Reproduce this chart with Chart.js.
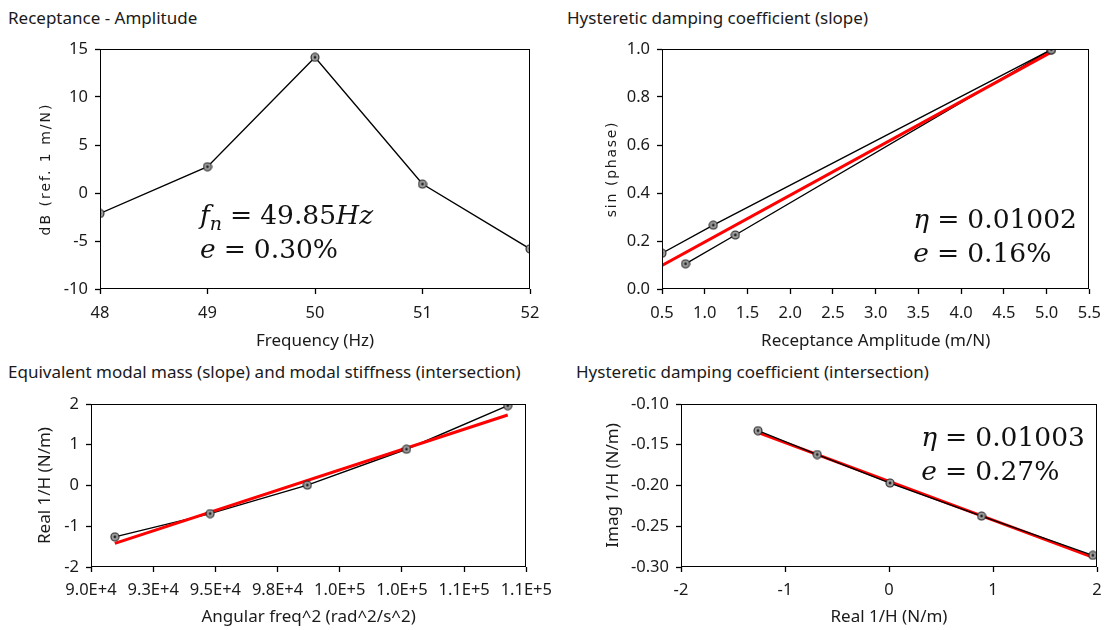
<!DOCTYPE html>
<html><head><meta charset="utf-8">
<script src="https://cdn.jsdelivr.net/npm/chart.js@4/dist/chart.umd.min.js"></script>
<style>
html,body{margin:0;padding:0;background:#fff;}
body{width:1110px;height:630px;position:relative;overflow:hidden;font-family:'Noto Sans',sans-serif;color:#1a1a1a;}
.title{position:absolute;font-size:17px;line-height:20px;white-space:nowrap;}
canvas{position:absolute;}
</style></head><body>
<div class="title" style="left:8px;top:8px">Receptance - Amplitude</div>
<div class="title" style="left:567px;top:8px">Hysteretic damping coefficient (slope)</div>
<div class="title" style="left:8px;top:362px">Equivalent modal mass (slope) and modal stiffness (intersection)</div>
<div class="title" style="left:576px;top:362px">Hysteretic damping coefficient (intersection)</div>
<canvas id="c1" width="560" height="330" style="left:0;top:30px"></canvas>
<canvas id="c2" width="550" height="330" style="left:560px;top:30px"></canvas>
<canvas id="c3" width="560" height="270" style="left:0;top:360px"></canvas>
<canvas id="c4" width="550" height="270" style="left:560px;top:360px"></canvas>
<script>
// ---------- data ----------
// Panel 1: Receptance amplitude
const freqHz = [48, 49, 50, 51, 52];
const ampDb = [-2.13, 2.74, 14.13, 0.93, -5.82];
const freqTicks = [48, 49, 50, 51, 52];
const ampTicks = [-10, -5, 0, 5, 10, 15];

// Panel 2: sin(phase) vs receptance amplitude
const upperAmp = [0.5, 1.1, 5.055];
const upperSin = [0.149, 0.266, 0.997];
const lowerAmp = [0.775, 1.358, 5.055];
const lowerSin = [0.105, 0.225, 0.997];
const slopeFitAmp = [0.5, 5.07];
const slopeFitSin = [0.098, 0.99];
const ampAxisTicks = [0.5, 1.0, 1.5, 2.0, 2.5, 3.0, 3.5, 4.0, 4.5, 5.0, 5.5];
const sinTicks = [0.0, 0.2, 0.4, 0.6, 0.8, 1.0];

// Panel 3: Real 1/H vs angular frequency squared
const omegaSq = [90958, 94790, 98696, 102683, 106752];
const realInvH = [-1.26, -0.69, 0.01, 0.89, 1.96];
const massFitW = [90958, 106752];
const massFitReal = [-1.42, 1.73];
const omegaTicks = [90000, 92500, 95000, 97500, 100000, 102500, 105000, 107500];
const omegaTickLabels = ['9.0E+4', '9.3E+4', '9.5E+4', '9.8E+4', '1.0E+5', '1.0E+5', '1.1E+5', '1.1E+5'];
const realTicks = [-2, -1, 0, 1, 2];

// Panel 4: Imag 1/H vs Real 1/H
const imagInvH = [-0.1327, -0.162, -0.197, -0.2375, -0.2857];
const dampFitReal = [-1.27, 1.95];
const dampFitImag = [-0.1345, -0.2875];
const realAxisTicks = [-2, -1, 0, 1, 2];
const imagTicks = [-0.30, -0.25, -0.20, -0.15, -0.10];

// ---------- helpers ----------
const FONT = "'Noto Sans', sans-serif";
const TXT = '#1a1a1a';
const pts = (xs, ys) => xs.map((x, i) => ({x: x, y: ys[i]}));

function markerCanvas() {
  const c = document.createElement('canvas');
  c.width = 10; c.height = 10;
  const g = c.getContext('2d');
  g.beginPath(); g.arc(5, 5, 4, 0, 2 * Math.PI);
  g.fillStyle = '#a0a0a0'; g.fill();
  g.lineWidth = 1.1; g.strokeStyle = '#222'; g.stroke();
  g.beginPath(); g.arc(5, 5, 1.4, 0, 2 * Math.PI);
  g.fillStyle = '#222'; g.fill();
  return c;
}
const MARK = markerCanvas();

function pointSet(data) {
  return {data: data, showLine: false, pointStyle: MARK, pointRadius: 4, pointHoverRadius: 4, clip: 0};
}
function blackLine(data) {
  return {data: data, showLine: true, borderColor: '#000', borderWidth: 1.4, pointRadius: 0, pointHoverRadius: 0, clip: 0};
}
function redLine(data) {
  return {data: data, showLine: true, borderColor: '#ff0000', borderWidth: 3, pointRadius: 0, pointHoverRadius: 0, clip: 0};
}

function xAxis(o) {
  return {
    type: 'linear', position: 'bottom', min: o.min, max: o.max,
    afterBuildTicks: s => { s.ticks = o.ticks.map(v => ({value: v})); },
    ticks: {autoSkip: false, maxRotation: 0, padding: o.tickPad, color: TXT,
            font: {family: FONT, size: 16.5}, callback: o.fmt},
    grid: {display: true, drawOnChartArea: false, drawTicks: true, tickLength: 5, tickColor: '#000', tickWidth: 1.3, lineWidth: 1},
    border: {display: false},
    title: {display: true, text: o.title, color: TXT, font: {family: FONT, size: 17}, padding: {top: 0, bottom: o.titlePad}},
    afterFit: s => { s.height = o.size; }
  };
}
function yAxis(o) {
  return {
    type: 'linear', position: 'left', min: o.min, max: o.max,
    afterBuildTicks: s => { s.ticks = o.ticks.map(v => ({value: v})); },
    ticks: {autoSkip: false, padding: 7, color: TXT, font: {family: FONT, size: 16.5}, callback: o.fmt},
    grid: {display: true, drawOnChartArea: false, drawTicks: true, tickLength: 5, tickColor: '#000', tickWidth: 1.3, lineWidth: 1},
    border: {display: false},
    title: {display: true, text: o.title, color: TXT, font: o.font, padding: {top: o.titlePad, bottom: 0}},
    afterFit: s => { s.width = o.size; }
  };
}

const boxPlugin = {
  id: 'frameBox',
  afterDatasetsDraw(chart) {
    const a = chart.chartArea, ctx = chart.ctx;
    ctx.save();
    ctx.strokeStyle = '#000'; ctx.lineWidth = 1;
    const l = Math.round(a.left) + 0.5, t = Math.round(a.top) + 0.5;
    const r = Math.round(a.right) - 0.5, b = Math.round(a.bottom) - 0.5;
    ctx.strokeRect(l, t, r - l, b - t);
    ctx.restore();
  }
};

const spacedTitle = {
  id: 'spacedTitle',
  afterLayout(chart, args, opts) {
    if (!opts || !opts.spacing) return;
    const sc = chart.scales.y;
    if (!sc || sc._spacedPatched) return;
    const orig = sc.drawTitle.bind(sc);
    sc.drawTitle = function () {
      const ctx = this.ctx;
      ctx.save();
      try { ctx.letterSpacing = opts.spacing; } catch (e) {}
      orig();
      ctx.restore();
    };
    sc._spacedPatched = true;
  }
};

const mathText = {
  id: 'mathText',
  afterDraw(chart, args, opts) {
    if (!opts || !opts.lines) return;
    const ctx = chart.ctx, xs = chart.scales.x, ys = chart.scales.y;
    ctx.save();
    ctx.fillStyle = '#111'; ctx.textBaseline = 'alphabetic'; ctx.textAlign = 'left';
    for (const line of opts.lines) {
      let x = xs.getPixelForValue(line.x);
      const y = ys.getPixelForValue(line.y);
      for (const p of line.parts) {
        if (p.gap) { x += p.gap; continue; }
        const size = p.sub ? 19 : 26.5;
        ctx.font = (p.it ? 'italic ' : '') + size + "px 'DejaVu Serif', serif";
        ctx.fillText(p.t, x, y + (p.sub ? 6 : 0));
        x += ctx.measureText(p.t).width;
      }
    }
    ctx.restore();
  }
};

Chart.register(boxPlugin, spacedTitle, mathText);

function baseOptions(pad, scales, plugins) {
  return {
    responsive: false, animation: false, events: [],
    layout: {padding: pad},
    scales: scales,
    plugins: Object.assign({legend: {display: false}, tooltip: {enabled: false}}, plugins)
  };
}

const eqGap = 8;

// ---------- Panel 1 ----------
new Chart(document.getElementById('c1'), {
  type: 'scatter',
  data: {datasets: [pointSet(pts(freqHz, ampDb)), blackLine(pts(freqHz, ampDb))]},
  options: baseOptions({left: 0, top: 19, right: 30, bottom: 0}, {
    x: xAxis({min: 48, max: 52, ticks: freqTicks, fmt: v => String(v), tickPad: 9,
              title: 'Frequency (Hz)', titlePad: 8.8, size: 71}),
    y: yAxis({min: -10, max: 15, ticks: ampTicks, fmt: v => String(v), size: 100,
              title: 'dB (ref. 1 m/N)', font: {family: "'DejaVu Sans', sans-serif", size: 14}, titlePad: 37.6})
  }, {
    spacedTitle: {spacing: '2px'},
    mathText: {lines: [
      {x: 48.93, y: -3.2, parts: [{t: 'f', it: true}, {t: 'n', it: true, sub: true}, {gap: eqGap}, {t: '='}, {gap: eqGap}, {t: '49.85'}, {t: 'Hz', it: true}]},
      {x: 48.93, y: -6.8, parts: [{t: 'e', it: true}, {gap: eqGap}, {t: '='}, {gap: eqGap}, {t: '0.30%'}]}
    ]}
  })
});

// ---------- Panel 2 ----------
new Chart(document.getElementById('c2'), {
  type: 'scatter',
  data: {datasets: [
    pointSet(pts(upperAmp, upperSin)), pointSet(pts(lowerAmp, lowerSin)),
    redLine(pts(slopeFitAmp, slopeFitSin)),
    blackLine(pts(upperAmp, upperSin)), blackLine(pts(lowerAmp, lowerSin))
  ]},
  options: baseOptions({left: 0, top: 19, right: 13, bottom: 0}, {
    x: xAxis({min: 0.5, max: 5.5, ticks: ampAxisTicks, fmt: v => v.toFixed(1), tickPad: 9,
              title: 'Receptance Amplitude (m/N)', titlePad: 8.8, size: 71}),
    y: yAxis({min: 0, max: 1, ticks: sinTicks, fmt: v => v.toFixed(1), size: 102,
              title: 'sin (phase)', font: {family: "'DejaVu Sans', sans-serif", size: 14}, titlePad: 43.6})
  }, {
    spacedTitle: {spacing: '1.7px'},
    mathText: {lines: [
      {x: 3.44, y: 0.255, parts: [{t: 'η', it: true}, {gap: eqGap}, {t: '='}, {gap: eqGap}, {t: '0.01002'}]},
      {x: 3.44, y: 0.112, parts: [{t: 'e', it: true}, {gap: eqGap}, {t: '='}, {gap: eqGap}, {t: '0.16%'}]}
    ]}
  })
});

// ---------- Panel 3 ----------
new Chart(document.getElementById('c3'), {
  type: 'scatter',
  data: {datasets: [
    pointSet(pts(omegaSq, realInvH)),
    redLine(pts(massFitW, massFitReal)),
    blackLine(pts(omegaSq, realInvH))
  ]},
  options: baseOptions({left: 0, top: 44, right: 31, bottom: 0}, {
    x: xAxis({min: 90000, max: 107500, ticks: omegaTicks, fmt: (v, i) => omegaTickLabels[i], tickPad: 8,
              title: 'Angular freq^2 (rad^2/s^2)', titlePad: 2.8, size: 63}),
    y: yAxis({min: -2, max: 2, ticks: realTicks, fmt: v => String(v), size: 91,
              title: 'Real 1/H (N/m)', font: {family: FONT, size: 17}, titlePad: 34.8})
  }, {})
});

// ---------- Panel 4 ----------
new Chart(document.getElementById('c4'), {
  type: 'scatter',
  data: {datasets: [
    pointSet(pts(realInvH, imagInvH)),
    blackLine(pts(realInvH, imagInvH)),
    redLine(pts(dampFitReal, dampFitImag))
  ]},
  options: baseOptions({left: 0, top: 44, right: 13, bottom: 0}, {
    x: xAxis({min: -2, max: 2, ticks: realAxisTicks, fmt: v => String(v), tickPad: 8,
              title: 'Real 1/H (N/m)', titlePad: 2.8, size: 63}),
    y: yAxis({min: -0.30, max: -0.10, ticks: imagTicks, fmt: v => v.toFixed(2), size: 121,
              title: 'Imag 1/H (N/m)', font: {family: FONT, size: 17}, titlePad: 42.8})
  }, {
    mathText: {lines: [
      {x: 0.31, y: -0.152, parts: [{t: 'η', it: true}, {gap: eqGap}, {t: '='}, {gap: eqGap}, {t: '0.01003'}]},
      {x: 0.31, y: -0.1935, parts: [{t: 'e', it: true}, {gap: eqGap}, {t: '='}, {gap: eqGap}, {t: '0.27%'}]}
    ]}
  })
});
</script>
</body></html>
